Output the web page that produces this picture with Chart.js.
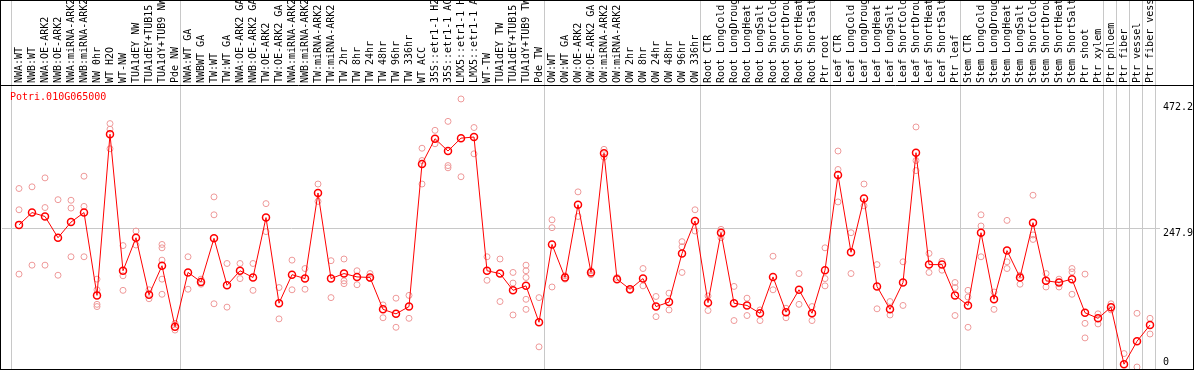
<!DOCTYPE html>
<html>
<head>
<meta charset="utf-8">
<script src="https://cdn.jsdelivr.net/npm/chart.js@4/dist/chart.umd.min.js"></script>
<style>
  html, body { margin: 0; padding: 0; background: #fff; }
  canvas { display: block; }
</style>
</head>
<body>
<canvas id="expression-chart" width="1194" height="370"></canvas>
<script>
const geneId = "Potri.010G065000";

const sampleLabels = [
  "NWA:WT", "NWB:WT", "NWA:OE-ARK2", "NWB:OE-ARK2", "NWA:miRNA-ARK2", "NWB:miRNA-ARK2",
  "NW 0hr", "WT H2O", "WT-NW", "TUA1dEY NW", "TUA1dEY+TUB15 NW", "TUA1dY+TUB9 NW", "Pde NW",
  "NWA:WT GA", "NWBWT GA", "TW:WT", "TW:WT GA", "NWA:OE-ARK2 GA", "NWB:OE-ARK2 GA",
  "TW:OE-ARK2", "TW:OE-ARK2 GA", "NWA:miRNA-ARK2", "NWB:miRNA-ARK2", "TW:miRNA-ARK2", "TW:miRNA-ARK2",
  "TW 2hr", "TW 8hr", "TW 24hr", "TW 48hr", "TW 96hr", "TW 336hr", "WT ACC",
  "35S::etr1-1 H2O", "35S::etr1-1 ACC", "LMX5::etr1-1 H2O", "LMX5::etr1-1 ACC",
  "WT-TW", "TUA1dEY TW", "TUA1dEY+TUB15 TW", "TUA1dY+TUB9 TW", "Pde TW",
  "OW:WT", "OW:WT GA", "OW:OE-ARK2", "OW:OE-ARK2 GA", "OW:miRNA-ARK2", "OW:miRNA-ARK2",
  "OW 2hr", "OW 8hr", "OW 24hr", "OW 48hr", "OW 96hr", "OW 336hr",
  "Root CTR", "Root LongCold", "Root LongDrought", "Root LongHeat", "Root LongSalt",
  "Root ShortCold", "Root ShortDrought", "Root ShortHeat", "Root ShortSalt", "Ptr root",
  "Leaf CTR", "Leaf LongCold", "Leaf LongDrought", "Leaf LongHeat", "Leaf LongSalt",
  "Leaf ShortCold", "Leaf ShortDrought", "Leaf ShortHeat", "Leaf ShortSalt", "Ptr leaf",
  "Stem CTR", "Stem LongCold", "Stem LongDrought", "Stem LongHeat", "Stem LongSalt",
  "Stem ShortCold", "Stem ShortDrought", "Stem ShortHeat", "Stem ShortSalt", "Ptr shoot",
  "Ptr xylem", "Ptr phloem", "Ptr fiber", "Ptr vessel", "Ptr fiber vessel"
];

const meanValues = [
  254, 276, 269, 231, 259, 276, 128, 416, 172, 231, 129, 181, 72,
  169, 152, 230, 146, 172, 160, 267, 114, 165, 158, 311, 158,
  167, 161, 160, 103, 95, 108, 363, 408, 386, 409, 411,
  172, 167, 137, 145, 80,
  219, 160, 290, 169, 382, 157, 139, 158, 108, 116, 203, 261,
  115, 240, 114, 110, 96, 161, 98, 138, 96, 173,
  343, 205, 301, 144, 103, 151, 383, 183, 183, 128,
  110, 240, 121, 208, 160, 258, 154, 151, 157, 97,
  87, 107, 5, 46, 75
];

// individual replicates, one list per sample
const replicateValues = [
  [319, 281, 166], [322, 182], [338, 285, 182], [299, 164], [298, 284, 197], [341, 287, 197],
  [157, 138, 112, 108], [435, 425, 390], [217, 163, 137], [243, 218], [138, 122],
  [219, 213, 191, 157, 130], [78, 66],
  [197, 139], [157, 148], [304, 272, 113], [185, 107], [185, 158], [185, 137],
  [292, 242], [142, 86], [191, 138], [176, 139], [327, 296], [190, 124],
  [193, 154, 149], [172, 147], [167, 158], [111, 88], [123, 71], [128, 87], [391, 369, 327],
  [423, 399], [439, 360, 356], [479, 340], [428, 381],
  [197, 155], [193, 117], [169, 150, 93], [182, 172, 160, 121, 103], [124, 36],
  [263, 249, 143], [157, 163], [313, 269], [172, 165], [389, 375], [160],
  [137], [176, 145], [126, 90], [132, 102], [224, 215, 169], [281, 243],
  [127, 101], [246, 231], [144, 83], [123, 92], [102, 83],
  [198, 138], [105, 88], [167, 112], [108, 83], [213, 158, 145],
  [386, 353, 295], [240, 167], [327, 288], [183, 104], [117, 93],
  [188, 110], [429, 369, 351], [203, 169], [189, 173], [151, 142, 92],
  [137, 125, 71], [272, 252, 197], [134, 103], [262, 188, 176], [164, 148],
  [307, 236, 228], [167, 143], [157, 143], [176, 170, 130], [166, 78, 52],
  [95, 77], [113, 102], [24], [96, 0], [87, 59]
];

const yTickValues = [0, 247.9, 472.2];
const yMax = 502.2;
// sample count before each grey separator line
const groupBreaks = [0, 13, 41, 53, 63, 73, 84, 85, 86, 87, 88];

const monoFont = "10px 'DejaVu Sans Mono', monospace";

const meanPoints = meanValues.map((v, i) => ({x: i + 1, y: v}));
const replicatePoints = [];
replicateValues.forEach((reps, i) => {
  reps.forEach(v => replicatePoints.push({x: i + 1, y: v}));
});

// frame, separators, gene id and the value labels on the right
const framePlugin = {
  id: 'frame',
  beforeDatasetsDraw(chart) {
    const ctx = chart.ctx;
    const x = chart.scales.x;
    ctx.save();
    ctx.strokeStyle = '#c8c8c8';
    ctx.lineWidth = 1;
    groupBreaks.forEach(b => {
      const px = Math.round(x.getPixelForValue(b + 0.4)) + 0.5;
      ctx.beginPath();
      ctx.moveTo(px, 0);
      ctx.lineTo(px, 369);
      ctx.stroke();
    });
    ctx.restore();
  },
  afterDraw(chart) {
    const ctx = chart.ctx;
    const y = chart.scales.y;
    ctx.save();
    ctx.strokeStyle = '#000';
    ctx.lineWidth = 1;
    ctx.strokeRect(0.5, 0.5, 1193, 369);
    ctx.beginPath();
    ctx.moveTo(0, 85.5);
    ctx.lineTo(1194, 85.5);
    ctx.stroke();

    ctx.font = monoFont;
    ctx.fillStyle = '#ff0000';
    ctx.textAlign = 'left';
    ctx.textBaseline = 'top';
    ctx.fillText(geneId, 10, 92);

    ctx.fillStyle = '#000';
    yTickValues.forEach(v => {
      const py = y.getPixelForValue(v);
      if (v === 0) {
        ctx.textBaseline = 'bottom';
        ctx.fillText(String(v), 1163, py);
      } else {
        ctx.textBaseline = 'top';
        ctx.fillText(v.toFixed(1), 1163, py);
      }
    });
    ctx.restore();
  }
};

const chartCanvas = document.getElementById('expression-chart');
const expressionChart = new Chart(chartCanvas, {
  type: 'line',
  data: {
    datasets: [
      {
        data: meanPoints,
        borderColor: '#ff0000',
        borderWidth: 1,
        pointStyle: 'circle',
        pointRadius: 3.5,
        pointBorderWidth: 1.5,
        pointBorderColor: '#ff0000',
        pointBackgroundColor: 'rgba(0,0,0,0)',
        tension: 0,
        clip: false
      },
      {
        data: replicatePoints,
        showLine: false,
        pointStyle: 'circle',
        pointRadius: 3,
        pointBorderWidth: 1,
        pointBorderColor: '#ee9999',
        pointBackgroundColor: 'rgba(0,0,0,0)',
        clip: false
      }
    ]
  },
  options: {
    responsive: false,
    animation: false,
    events: [],
    layout: {
      autoPadding: false,
      padding: {left: 2, right: 34, top: 0, bottom: 3}
    },
    scales: {
      x: {
        type: 'linear',
        position: 'top',
        min: -0.3077,
        max: 88.769,
        afterBuildTicks: s => {
          s.ticks = sampleLabels.map((_, i) => ({value: i + 1}));
        },
        afterFit: s => {
          s.height = 86;
          s.paddingLeft = 0;
          s.paddingRight = 0;
        },
        grid: {display: false, drawTicks: false},
        border: {display: false},
        ticks: {
          autoSkip: false,
          minRotation: 90,
          maxRotation: 90,
          padding: 3,
          labelOffset: 12,
          color: '#000',
          font: {family: "'DejaVu Sans Mono', monospace", size: 10},
          callback: v => sampleLabels[v - 1]
        }
      },
      y: {
        type: 'linear',
        position: 'right',
        min: 0,
        max: yMax,
        afterBuildTicks: s => {
          s.ticks = yTickValues.map(v => ({value: v}));
        },
        afterFit: s => { s.width = 0; },
        grid: {
          drawTicks: false,
          color: c => (c.tick && c.tick.value === 247.9) ? '#c8c8c8' : 'rgba(0,0,0,0)'
        },
        border: {display: false},
        ticks: {display: false}
      }
    },
    plugins: {
      legend: {display: false},
      tooltip: {enabled: false},
      title: {display: false}
    }
  },
  plugins: [framePlugin]
});
</script>
</body>
</html>
